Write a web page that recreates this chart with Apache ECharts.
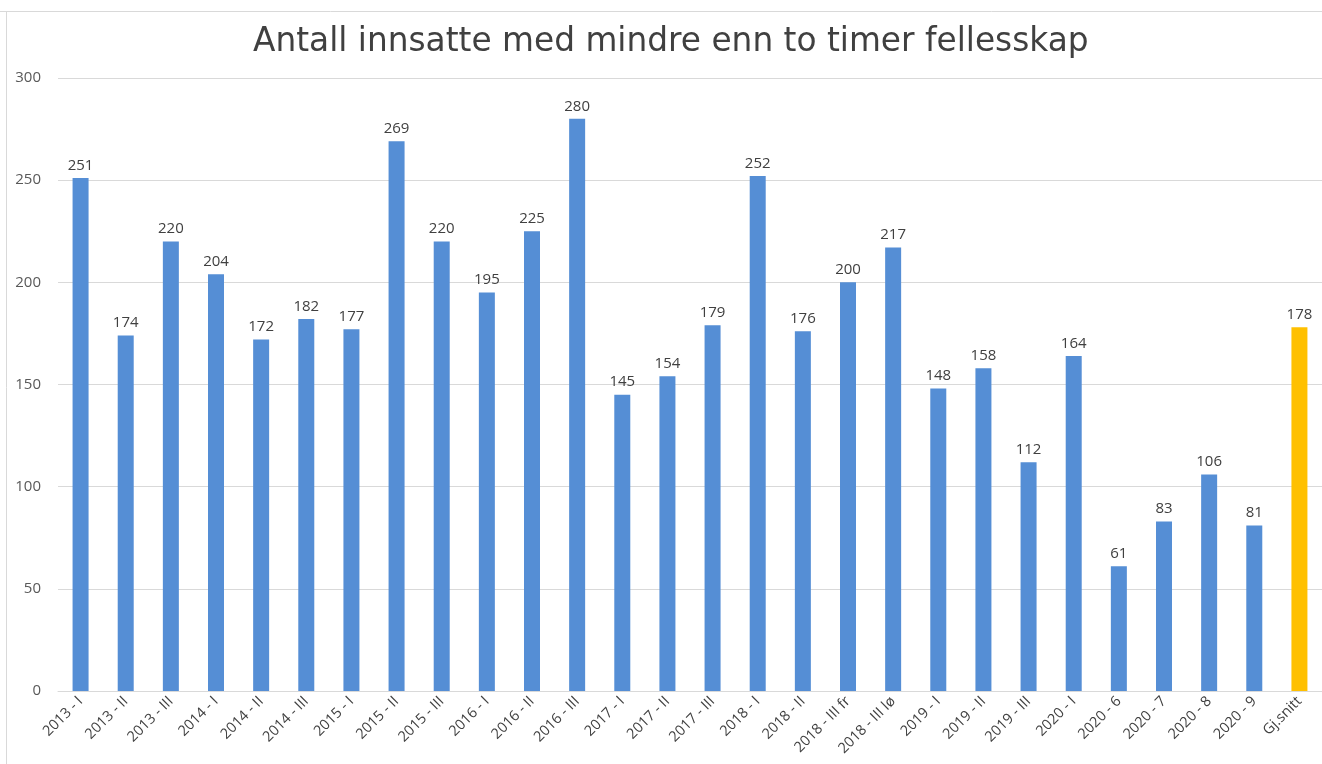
<!DOCTYPE html>
<html>
<head>
<meta charset="utf-8">
<script src="https://cdn.jsdelivr.net/npm/echarts@6/dist/echarts.min.js"></script>
<style>
html,body{margin:0;padding:0;background:#fff;}
#chart{width:1322px;height:764px;}
</style>
</head>
<body>
<div id="chart"></div>
<script>
const categories = ["2013 - I","2013 - II","2013 - III","2014 - I","2014 - II","2014 - III","2015 - I","2015 - II","2015 - III","2016 - I","2016 - II","2016 - III","2017 - I","2017 - II","2017 - III","2018 - I","2018 - II","2018 - III fr","2018 - III lø","2019 - I","2019 - II","2019 - III","2020 - I","2020 - 6","2020 - 7","2020 - 8","2020 - 9","Gj.snitt"];
const values = [251,174,220,204,172,182,177,269,220,195,225,280,145,154,179,252,176,200,217,148,158,112,164,61,83,106,81,178];
const highlightCategory = "Gj.snitt";
const yTicks = [0,50,100,150,200,250,300];
const titleText = "Antall innsatte med mindre enn to timer fellesskap";

const chart = echarts.init(document.getElementById('chart'), null, {renderer:'canvas'});
const FONT = '"Open Sans", "DejaVu Sans", sans-serif';
chart.setOption({
  animation:false,
  backgroundColor:'#ffffff',
  title:{
    text:titleText, left:248, top:21,
    textStyle:{fontFamily:'"DejaVu Sans", sans-serif', fontSize:32.8, fontWeight:'normal', color:'#404040'}
  },
  graphic:[
    {type:'line', shape:{x1:0,y1:11.5,x2:1322,y2:11.5}, style:{stroke:'#d9d9d9', lineWidth:1}},
    {type:'line', shape:{x1:6.5,y1:11,x2:6.5,y2:764}, style:{stroke:'#d9d9d9', lineWidth:1}}
  ],
  grid:{left:58, right:0, top:78, bottom:73, containLabel:false},
  xAxis:{
    type:'category', data:categories,
    axisLine:{lineStyle:{color:'#d9d9d9'}},
    axisTick:{show:false},
    axisLabel:{rotate:45, interval:0, fontFamily:FONT, fontSize:14.5, color:'#404040', margin:8}
  },
  yAxis:{
    type:'value', min:yTicks[0], max:yTicks[yTicks.length-1], interval:50,
    axisLine:{show:false}, axisTick:{show:false},
    axisLabel:{fontFamily:FONT, fontSize:15, color:'#595959', margin:17},
    splitLine:{lineStyle:{color:'#d9d9d9'}}
  },
  series:[{
    type:'bar', barWidth:16,
    data: values.map((v,i)=>({value:v, itemStyle:{color: categories[i]===highlightCategory ? '#ffc000' : '#558ed5'}})),
    label:{show:true, position:'top', distance:5, fontFamily:FONT, fontSize:15, color:'#404040'}
  }]
});
</script>
</body>
</html>
